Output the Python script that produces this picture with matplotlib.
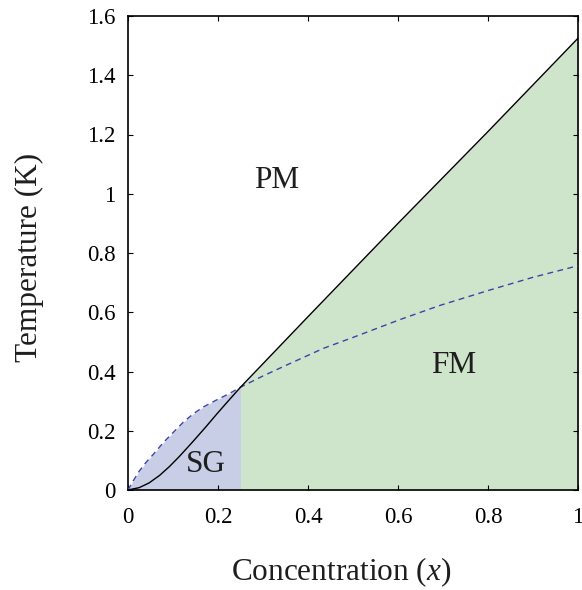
import matplotlib
matplotlib.use("Agg")
import matplotlib.pyplot as plt
from matplotlib.ticker import FuncFormatter

plt.rcParams['font.family'] = ['Liberation Serif', 'DejaVu Serif']
plt.rcParams['mathtext.fontset'] = 'custom'
plt.rcParams['mathtext.rm'] = 'Liberation Serif'
plt.rcParams['mathtext.it'] = 'Liberation Serif:italic'

# ---- data ----
# solid black boundary (PM / ordered)
solid_x = [0.0, 0.025, 0.047, 0.070, 0.092, 0.114, 0.144, 0.173, 0.197, 0.223, 0.25,
           0.40, 0.60, 0.80, 1.00]
solid_y = [0.0, 0.008, 0.024, 0.049, 0.079, 0.113, 0.163, 0.213, 0.256, 0.301, 0.347,
           0.585, 0.900, 1.210, 1.525]

# dashed blue curve
dash_x = [0.0, 0.0104, 0.0252, 0.040, 0.056, 0.0785, 0.108, 0.123, 0.145, 0.167, 0.197, 0.227,
          0.25, 0.30, 0.35, 0.434, 0.50, 0.604, 0.693, 0.804, 0.90, 1.00]
dash_y = [0.0, 0.028, 0.064, 0.093, 0.120, 0.160, 0.206, 0.229, 0.257, 0.280, 0.304, 0.327,
          0.347, 0.385, 0.420, 0.478, 0.515, 0.575, 0.623, 0.675, 0.718, 0.757]

sg_limit = 0.25

x_ticks = [0, 0.2, 0.4, 0.6, 0.8, 1]
y_ticks = [0, 0.2, 0.4, 0.6, 0.8, 1, 1.2, 1.4, 1.6]

region_labels = ["PM", "FM", "SG"]
region_pos = [(0.33, 1.046), (0.723, 0.42), (0.173, 0.086)]

# ---- figure ----
fig = plt.figure(figsize=(5.82, 5.90), dpi=100)
ax = fig.add_axes([128/582, 100/590, 450/582, 474/590])

# fills
sg_x = [x for x in dash_x if x <= sg_limit]
sg_y = [y for x, y in zip(dash_x, dash_y) if x <= sg_limit]
ax.fill_between(sg_x, 0, sg_y, color='#c8cee6', lw=0, zorder=1)
fm_x = [x for x in solid_x if x >= sg_limit]
fm_y = [y for x, y in zip(solid_x, solid_y) if x >= sg_limit]
ax.fill_between(fm_x, 0, fm_y, color='#cee5cb', lw=0, zorder=1)

ax.plot(dash_x, dash_y, color='#3d42aa', lw=1.0, linestyle=(0, (4.2, 3.2)), zorder=3)
ax.plot(solid_x, solid_y, color='black', lw=1.0, zorder=4)

for lab, (px, py) in zip(region_labels, region_pos):
    ax.text(px, py, lab, fontsize=22.5, ha='center', va='center', color='#1e1e1e', zorder=5)

ax.set_xlim(0, 1)
ax.set_ylim(0, 1.6)
ax.set_xticks(x_ticks)
ax.set_yticks(y_ticks)
fmt = FuncFormatter(lambda v, p: ('%g' % round(v, 3)))
ax.xaxis.set_major_formatter(fmt)
ax.yaxis.set_major_formatter(fmt)
ax.tick_params(direction='in', top=True, right=True, length=3.4, width=0.8,
               labelsize=16.5, colors='black')
ax.tick_params(axis='x', pad=12)
ax.tick_params(axis='y', pad=9)
for s in ax.spines.values():
    s.set_linewidth(1.2)

ax.set_xlabel('Concentration ($x$)', fontsize=22.5, va='center', ha='center', color='#1e1e1e')
ax.xaxis.set_label_coords(0.474, -0.173)
ax.set_ylabel('Temperature (K)', fontsize=22.5, va='center', ha='center', color='#1e1e1e')
ax.yaxis.set_label_coords(-0.218, 0.49)

fig.savefig('out.png', dpi=100)
